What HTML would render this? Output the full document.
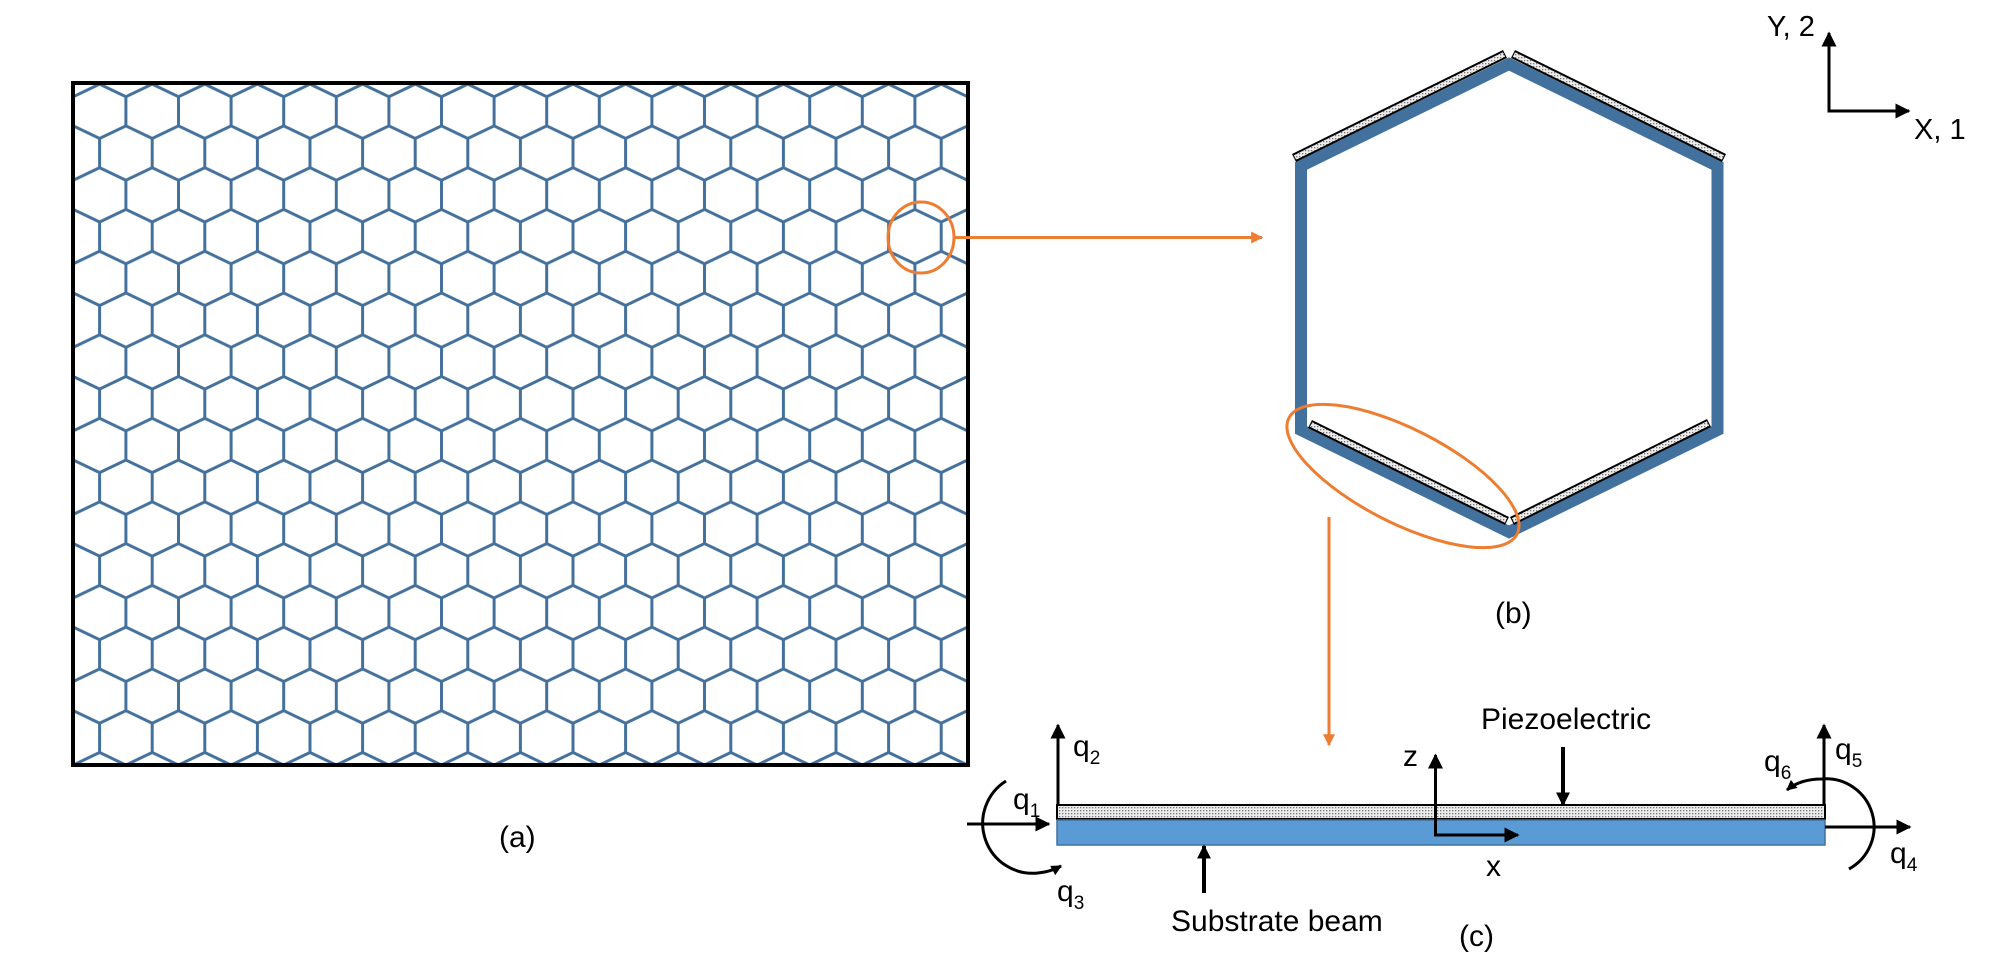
<!DOCTYPE html>
<html><head><meta charset="utf-8"><style>
html,body{margin:0;padding:0;background:#fff;}
svg{display:block;}
text{font-family:"Liberation Sans",sans-serif;fill:#000;}
</style></head><body>
<svg width="2000" height="975" viewBox="0 0 2000 975" xmlns="http://www.w3.org/2000/svg">
<defs>
<pattern id="hc" patternUnits="userSpaceOnUse" x="73.3" y="84.13" width="52.6" height="83.54">
<path fill="none" stroke="#44709c" stroke-width="3" stroke-linejoin="round" d="
M -52.6 12.57 L -26.3 0 L 0 12.57 L 26.3 0 L 52.6 12.57 L 78.9 0 L 105.2 12.57
M -52.6 96.11 L -26.3 83.54 L 0 96.11 L 26.3 83.54 L 52.6 96.11 L 78.9 83.54 L 105.2 96.11
M 0 12.57 V 41.77 M 52.6 12.57 V 41.77
M -52.6 41.77 L -26.3 54.34 L 0 41.77 L 26.3 54.34 L 52.6 41.77 L 78.9 54.34 L 105.2 41.77
M 26.3 54.34 V 83.54 M 26.3 -29.2 V 0"/>
</pattern>
<pattern id="dots" patternUnits="userSpaceOnUse" width="3" height="3">
<rect width="3" height="3" fill="#ececec"/>
<rect width="1.3" height="1.3" fill="#777"/>
</pattern>
<clipPath id="boxclip"><rect x="73" y="83" width="895" height="682"/></clipPath>
<marker id="ah" viewBox="0 0 10 10" refX="9" refY="5" markerWidth="5" markerHeight="5" orient="auto" markerUnits="strokeWidth">
<path d="M0,0 L10,5 L0,10 z" fill="#000"/></marker>
<marker id="ahs" viewBox="0 0 10 10" refX="9" refY="5" markerWidth="3.5" markerHeight="3.5" orient="auto" markerUnits="strokeWidth">
<path d="M0,0 L10,5 L0,10 z" fill="#000"/></marker>
<marker id="ao" viewBox="0 0 10 10" refX="9" refY="5" markerWidth="4" markerHeight="4" orient="auto" markerUnits="strokeWidth">
<path d="M0,0 L10,5 L0,10 z" fill="#ed7d31"/></marker>
</defs>

<rect x="73" y="83" width="895" height="682" fill="url(#hc)" clip-path="url(#boxclip)"/>
<rect x="73" y="83" width="895" height="682" fill="none" stroke="#000" stroke-width="4"/>
<text x="499" y="847" font-size="30">(a)</text>

<ellipse cx="921" cy="237.5" rx="33" ry="35.5" fill="none" stroke="#ed7d31" stroke-width="3"/>
<line x1="954" y1="237.5" x2="1262" y2="237.5" stroke="#ed7d31" stroke-width="3" marker-end="url(#ao)"/>

<polygon points="1509,64 1717.5,166 1717.5,430 1509,532 1301,430 1301,166" fill="none" stroke="#41719c" stroke-width="12" stroke-linejoin="miter"/>
<g stroke-linecap="butt">
<line x1="1294" y1="158" x2="1505" y2="54" stroke="#000" stroke-width="9"/>
<line x1="1295" y1="157.5" x2="1504" y2="54.5" stroke="url(#dots)" stroke-width="5"/>
<line x1="1513" y1="54" x2="1724" y2="158" stroke="#000" stroke-width="9"/>
<line x1="1514" y1="54.5" x2="1723" y2="157.5" stroke="url(#dots)" stroke-width="5"/>
<line x1="1310" y1="424" x2="1507" y2="521" stroke="#000" stroke-width="9"/>
<line x1="1311" y1="424.5" x2="1506" y2="520.5" stroke="url(#dots)" stroke-width="5"/>
<line x1="1512" y1="521" x2="1709" y2="423" stroke="#000" stroke-width="9"/>
<line x1="1513" y1="520.5" x2="1708" y2="423.5" stroke="url(#dots)" stroke-width="5"/>
</g>
<ellipse cx="1403" cy="476" rx="128" ry="47" transform="rotate(27 1403 476)" fill="none" stroke="#ed7d31" stroke-width="3"/>
<text x="1495" y="623" font-size="30">(b)</text>
<line x1="1329" y1="517" x2="1329" y2="745" stroke="#ed7d31" stroke-width="3" marker-end="url(#ao)"/>

<line x1="1829" y1="111" x2="1829" y2="33" stroke="#000" stroke-width="3" marker-end="url(#ah)"/>
<line x1="1827.5" y1="111" x2="1909" y2="111" stroke="#000" stroke-width="3" marker-end="url(#ah)"/>
<text x="1767" y="36" font-size="29">Y, 2</text>
<text x="1914" y="139" font-size="29">X, 1</text>

<rect x="1057" y="805" width="768" height="14" fill="url(#dots)" stroke="#000" stroke-width="2"/>
<rect x="1057" y="820" width="768" height="25" fill="#5b9bd5" stroke="#41719c" stroke-width="1.5"/>

<line x1="1058" y1="806" x2="1058" y2="725" stroke="#000" stroke-width="3" marker-end="url(#ah)"/>
<text x="1073" y="756" font-size="30">q<tspan font-size="19" dy="8">2</tspan></text>
<line x1="967" y1="824" x2="1049" y2="824" stroke="#000" stroke-width="3" marker-end="url(#ah)"/>
<text x="1013" y="809" font-size="30">q<tspan font-size="19" dy="8">1</tspan></text>
<path d="M1006,781 A50,50 0 0,0 1038,873 Q1050,872 1061,866" fill="none" stroke="#000" stroke-width="3" marker-end="url(#ahs)"/>
<text x="1057" y="901" font-size="30">q<tspan font-size="19" dy="8">3</tspan></text>
<line x1="1204" y1="893" x2="1204" y2="846" stroke="#000" stroke-width="4" marker-end="url(#ahs)"/>
<text x="1171" y="931" font-size="30">Substrate beam</text>
<text x="1459" y="946" font-size="30">(c)</text>

<line x1="1435.5" y1="836" x2="1435.5" y2="755" stroke="#000" stroke-width="3" marker-end="url(#ah)"/>
<line x1="1434" y1="835" x2="1518" y2="835" stroke="#000" stroke-width="3" marker-end="url(#ah)"/>
<text x="1403" y="766" font-size="30">z</text>
<text x="1486" y="876" font-size="30">x</text>

<text x="1481" y="729" font-size="30">Piezoelectric</text>
<line x1="1563" y1="747" x2="1563" y2="805" stroke="#000" stroke-width="4" marker-end="url(#ahs)"/>

<line x1="1824" y1="806" x2="1824" y2="725" stroke="#000" stroke-width="3" marker-end="url(#ah)"/>
<text x="1835" y="759" font-size="30">q<tspan font-size="19" dy="8">5</tspan></text>
<line x1="1825" y1="827" x2="1910" y2="827" stroke="#000" stroke-width="3" marker-end="url(#ah)"/>
<text x="1890" y="863" font-size="30">q<tspan font-size="19" dy="8">4</tspan></text>
<path d="M1849,869 A48,48 0 0,0 1822,779 Q1800,779 1787,790" fill="none" stroke="#000" stroke-width="3" marker-end="url(#ahs)"/>
<text x="1764" y="771" font-size="30">q<tspan font-size="19" dy="8">6</tspan></text>
</svg>
</body></html>
